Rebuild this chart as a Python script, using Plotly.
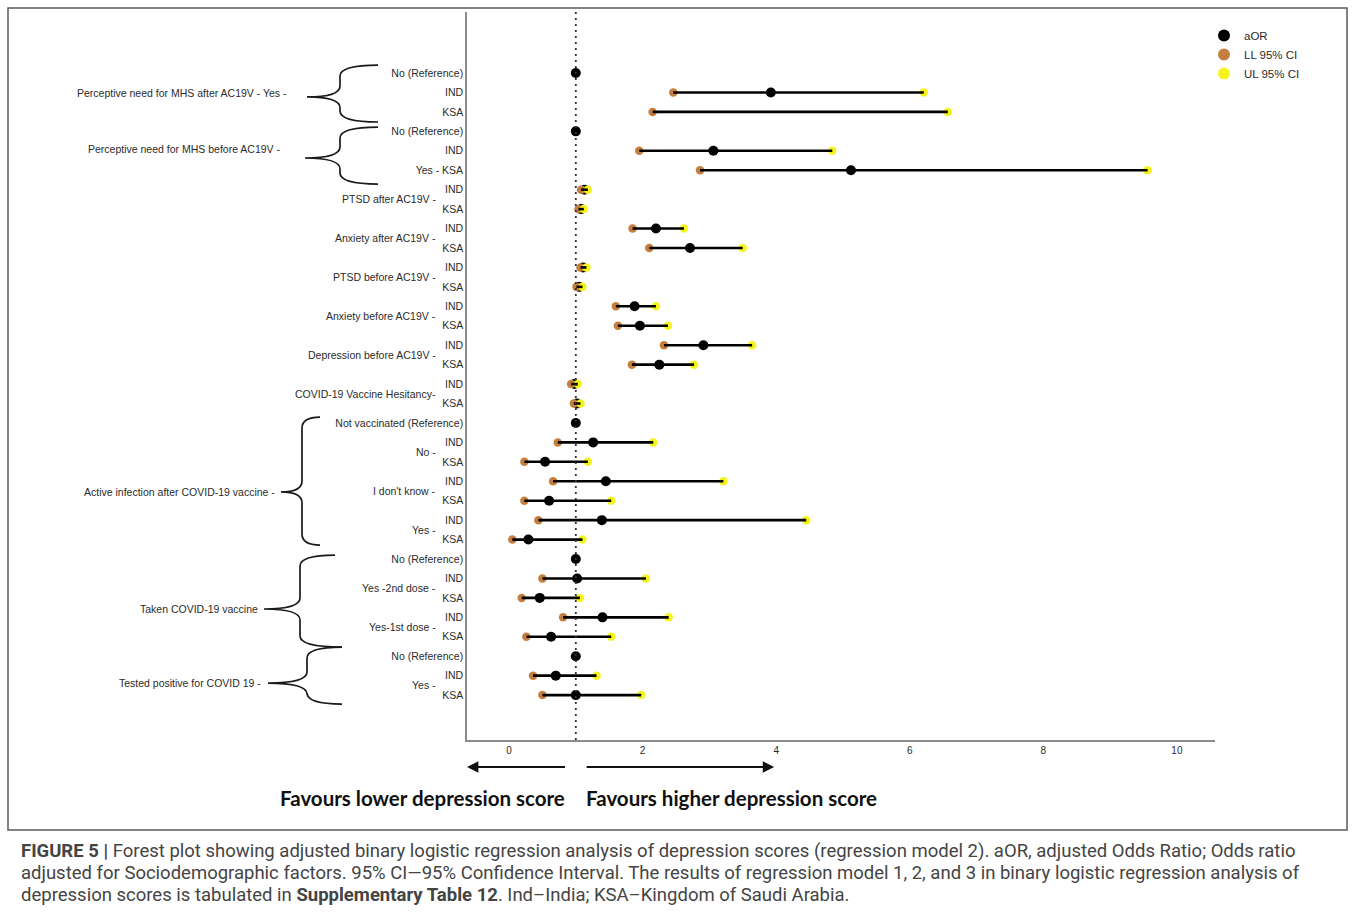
import plotly.graph_objects as go

# ---- data -------------------------------------------------------------
row_labels = [
    "No (Reference)", "IND", "KSA",
    "No (Reference)", "IND", "Yes - KSA",
    "IND", "KSA",
    "IND", "KSA",
    "IND", "KSA",
    "IND", "KSA",
    "IND", "KSA",
    "IND", "KSA",
    "Not vaccinated (Reference)", "IND", "KSA", "IND", "KSA", "IND", "KSA",
    "No (Reference)", "IND", "KSA", "IND", "KSA",
    "No (Reference)", "IND", "KSA",
]
aor = [1.00, 3.92, None, 1.00, 3.06, 5.12, 1.13, 1.08, 2.20, 2.71, 1.11, 1.05,
       1.88, 1.96, 2.91, 2.25, 0.98, 1.02, 1.00, 1.26, 0.54, 1.45, 0.60, 1.39,
       0.29, 1.00, 1.02, 0.46, 1.40, 0.63, 1.00, 0.70, 1.00]
ll_95 = [None, 2.46, 2.15, None, 1.95, 2.86, 1.08, 1.04, 1.85, 2.10, 1.07, 1.01,
         1.60, 1.63, 2.32, 1.84, 0.93, 0.97, None, 0.73, 0.23, 0.66, 0.23, 0.44,
         0.05, None, 0.50, 0.19, 0.81, 0.26, None, 0.36, 0.50]
ul_95 = [None, 6.21, 6.57, None, 4.84, 9.56, 1.18, 1.12, 2.62, 3.50, 1.16, 1.10,
         2.20, 2.38, 3.64, 2.77, 1.03, 1.07, None, 2.16, 1.18, 3.21, 1.53, 4.45,
         1.10, None, 2.05, 1.06, 2.39, 1.53, None, 1.31, 1.98]

# labels sitting between an IND/KSA pair
pair_labels = ["PTSD after AC19V -", "Anxiety after AC19V -", "PTSD before AC19V -",
               "Anxiety before AC19V -", "Depression before AC19V -",
               "COVID-19 Vaccine Hesitancy-", "No -", "I don't know -", "Yes -",
               "Yes -2nd dose -", "Yes-1st dose -", "Yes -"]
pair_rows = [6.5, 8.5, 10.5, 12.5, 14.5, 16.5, 19.5, 21.5, 23.5, 26.5, 28.5, 31.5]

# bracketed variable groups: label, label row, brace top / bottom / tip rows
group_labels = ["Perceptive need for MHS after AC19V - Yes -",
                "Perceptive need for MHS before AC19V -",
                "Active infection after COVID-19 vaccine -",
                "Taken COVID-19 vaccine",
                "Tested positive for COVID 19 -"]
group_rows = [1.03, 3.90, 21.55, 27.57, 31.38]
brace_top = [-0.41, 2.78, 17.70, 24.80, 29.53]
brace_bot = [2.52, 5.71, 24.28, 29.53, 32.46]
brace_tip = [1.23, 4.37, 21.55, 27.57, 31.38]

x_ticks = [0, 2, 4, 6, 8, 10]

caption_lines = [
    "<b>FIGURE 5 |</b> Forest plot showing adjusted binary logistic regression analysis of "
    "depression scores (regression model 2). aOR, adjusted Odds Ratio; Odds ratio",
    "adjusted for Sociodemographic factors. 95% CI\u201495% Confidence Interval. The results "
    "of regression model 1, 2, and 3 in binary logistic regression analysis of",
    "depression scores is tabulated in <b>Supplementary Table 12</b>. Ind\u2013India; "
    "KSA\u2013Kingdom of Saudi Arabia.",
]

# ---- geometry ---------------------------------------------------------
W, H = 1355, 924
ML, MR, MT, MB = 467, 140, 12, 184
PW, PH = W - ML - MR, H - MT - MB
X_RANGE = [-0.629, 10.57]
Y_RANGE = [34.31, -3.14]          # reversed: first row at the top

FONT = "Liberation Sans, Arial, sans-serif"
INK = "#2b2b2b"


def px_x(px):
    return (px - ML) / PW


def px_y(py):
    return (H - MB - py) / PH


def row_py(r):
    return MT + (r - Y_RANGE[1]) / (Y_RANGE[0] - Y_RANGE[1]) * PH


def val_px(v):
    return ML + (v - X_RANGE[0]) / (X_RANGE[1] - X_RANGE[0]) * PW


rows = list(range(len(row_labels)))

fig = go.Figure()

fig.add_trace(go.Scatter(
    x=aor, y=rows, mode="markers", name="aOR",
    marker=dict(color="#000000", size=10), cliponaxis=False))
fig.add_trace(go.Scatter(
    x=ll_95, y=rows, mode="markers", name="LL 95% CI",
    marker=dict(color="#c47f3e", size=8.5), cliponaxis=False))
fig.add_trace(go.Scatter(
    x=ul_95, y=rows, mode="markers", name="UL 95% CI",
    marker=dict(color="#f4f41c", size=8.5), cliponaxis=False))

seg_x, seg_y = [], []
for r, lo, hi in zip(rows, ll_95, ul_95):
    if lo is None or hi is None:
        continue
    seg_x += [lo, hi, None]
    seg_y += [r, r, None]
fig.add_trace(go.Scatter(
    x=seg_x, y=seg_y, mode="lines", showlegend=False, hoverinfo="skip",
    line=dict(color="#000000", width=2.6)))

shapes = []
# reference line at OR = 1
shapes.append(dict(type="line", xref="x", yref="paper", x0=1, x1=1, y0=0, y1=1,
                   line=dict(color="#333333", width=1.8, dash="2px,4px")))


def brace_path(x_tip, x_spine, x_top, x_bot, y_top, y_mid, y_bot, r=11):
    pts = [
        ("M", [(x_top, y_top)]),
        ("Q", [(x_spine, y_top), (x_spine, y_top + r)]),
        ("L", [(x_spine, y_mid - r)]),
        ("Q", [(x_spine, y_mid), (x_tip, y_mid)]),
        ("Q", [(x_spine, y_mid), (x_spine, y_mid + r)]),
        ("L", [(x_spine, y_bot - r)]),
        ("Q", [(x_spine, y_bot), (x_bot, y_bot)]),
    ]
    out = []
    for cmd, cs in pts:
        out.append(cmd + " " + " ".join(f"{px_x(a):.5f},{px_y(b):.5f}" for a, b in cs))
    return " ".join(out)


brace_x = [  # tip, spine, top end, bottom end (px)
    (307, 340, 378, 378),
    (305, 340, 378, 378),
    (281, 302, 320, 320),
    (264, 300, 335, 342),
    (268, 307, 342, 342),
]
for (xt, xs, xa, xb), t, b, m in zip(brace_x, brace_top, brace_bot, brace_tip):
    shapes.append(dict(type="path", xref="paper", yref="paper",
                       path=brace_path(xt, xs, xa, xb, row_py(t), row_py(m), row_py(b)),
                       line=dict(color="#1a1a1a", width=1.7)))

# outer frame
shapes.append(dict(type="rect", xref="paper", yref="paper",
                   x0=px_x(8), x1=px_x(1347), y0=px_y(830), y1=px_y(8),
                   line=dict(color="#5a5a5a", width=1.5)))

annotations = []
for txt, r in zip(pair_labels, pair_rows):
    annotations.append(dict(text=txt, xref="paper", yref="y", x=px_x(438), y=r,
                            xanchor="right", yanchor="middle", showarrow=False,
                            font=dict(family=FONT, size=10.5, color=INK)))
group_right = [289, 283, 277, 260, 263]
for txt, r, right in zip(group_labels, group_rows, group_right):
    annotations.append(dict(text=txt, xref="paper", yref="y", x=px_x(right), y=r,
                            xanchor="right", yanchor="middle", showarrow=False,
                            font=dict(family=FONT, size=10.5, color=INK)))

# direction arrows under the axis
arrow_y = px_y(767)
annotations.append(dict(text="", xref="paper", yref="paper", x=0, y=arrow_y,
                        axref="pixel", ayref="pixel", ax=val_px(0.86) - ML, ay=0,
                        showarrow=True, arrowhead=2, arrowsize=1.2, arrowwidth=1.9,
                        arrowcolor="#111111"))
annotations.append(dict(text="", xref="paper", yref="paper", x=px_x(val_px(3.97)),
                        y=arrow_y, axref="pixel", ayref="pixel",
                        ax=val_px(1.14) - val_px(3.97), ay=0,
                        showarrow=True, arrowhead=2, arrowsize=1.2, arrowwidth=1.9,
                        arrowcolor="#111111"))
fav_font = dict(family="Lato, Open Sans, sans-serif", size=20.5, color="#111111")
annotations.append(dict(text="<b>Favours lower depression score</b>", xref="paper",
                        yref="paper", x=px_x(567), y=px_y(798), xanchor="right",
                        yanchor="middle", showarrow=False, font=fav_font))
annotations.append(dict(text="<b>Favours higher depression score</b>", xref="paper",
                        yref="paper", x=px_x(584), y=px_y(798), xanchor="left",
                        yanchor="middle", showarrow=False, font=fav_font))

for i, line in enumerate(caption_lines):
    annotations.append(dict(text=line, xref="paper", yref="paper", x=px_x(19),
                            y=px_y(851 + 22 * i), xanchor="left", yanchor="middle",
                            showarrow=False, align="left",
                            font=dict(family="Roboto, sans-serif", size=18.5,
                                      color="#444444")))

fig.update_layout(
    width=W, height=H,
    margin=dict(l=ML, r=MR, t=MT, b=MB, autoexpand=False),
    paper_bgcolor="white", plot_bgcolor="white",
    font=dict(family=FONT, size=10.5, color=INK),
    xaxis=dict(range=X_RANGE, tickvals=x_ticks, ticktext=[str(t) for t in x_ticks],
               showgrid=False, zeroline=False, showline=True, linecolor="#8c8c8c",
               linewidth=1.5, ticks="", tickfont=dict(size=10, color=INK)),
    yaxis=dict(range=Y_RANGE, tickvals=rows, ticktext=row_labels, showgrid=False,
               zeroline=False, showline=True, linecolor="#8c8c8c", linewidth=1.5,
               ticks="", tickfont=dict(size=10.5, color=INK)),
    legend=dict(x=px_x(1204), y=px_y(21), xanchor="left", yanchor="top",
                bgcolor="rgba(0,0,0,0)", itemsizing="constant",
                font=dict(family=FONT, size=11.5, color=INK)),
    shapes=shapes,
    annotations=annotations,
)

fig.write_html("out.html")
